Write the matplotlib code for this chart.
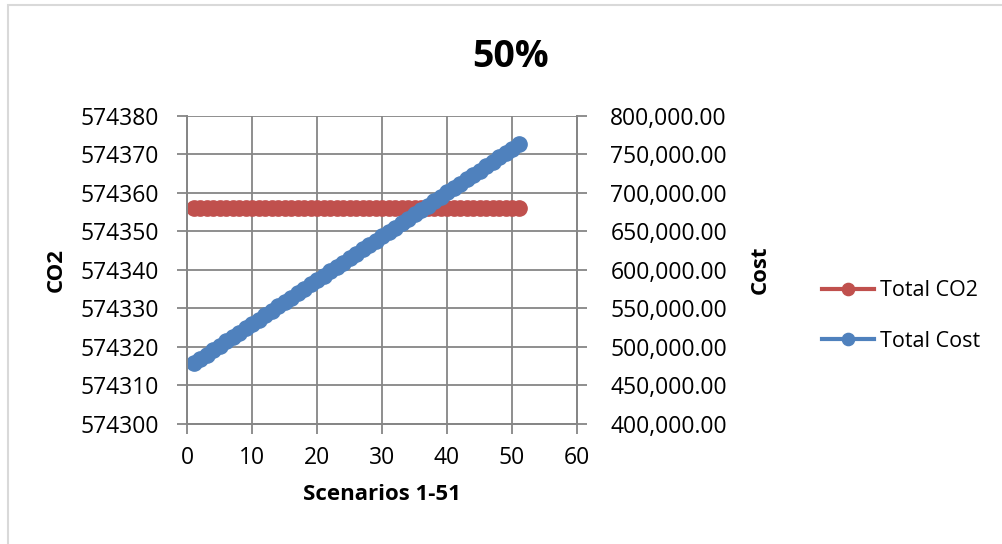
import matplotlib
matplotlib.use("Agg")
import matplotlib.pyplot as plt
from matplotlib.patches import Rectangle
from matplotlib.ticker import FuncFormatter

# scenario index 1..51
scenarios = list(range(1, 52))

# Total CO2 stays flat across all scenarios
total_co2 = [574356] * 51

# Total Cost
total_cost = [478400, 484090, 489780, 495470, 501160, 506850, 512540, 518230,
              523920, 529610, 535300, 540990, 546680, 552370, 558060, 563750,
              569440, 575130, 580820, 586510, 592200, 597890, 603580, 609270,
              614960, 620650, 626340, 632030, 637720, 643410, 649100, 654790,
              660480, 666170, 671860, 677550, 683240, 688930, 694620, 700310,
              706000, 711690, 717380, 723070, 728760, 734450, 740140, 745830,
              751520, 757210, 762900]

x_ticks = [0, 10, 20, 30, 40, 50, 60]
co2_ticks = [574300, 574310, 574320, 574330, 574340, 574350, 574360, 574370, 574380]
cost_ticks = [400000, 450000, 500000, 550000, 600000, 650000, 700000, 750000, 800000]

RED = "#C0504D"
BLUE = "#4F81BD"
GRID = "#868686"

plt.rcParams["font.family"] = ["Open Sans", "DejaVu Sans"]

fig = plt.figure(figsize=(10.02, 5.44), dpi=100)
fig.patches.append(Rectangle((8 / 1002, -0.1), 1.2, 1 - 5 / 544 + 0.1,
                             transform=fig.transFigure, fill=False,
                             edgecolor="#d9d9d9", lw=1.5))

ax = fig.add_axes([187 / 1002, 1 - 423.7 / 544, 390 / 1002, 308 / 544])
ax2 = ax.twinx()

ax.plot(scenarios, total_co2, color=RED, lw=3, marker="o", ms=11,
        mec=RED, label="Total CO2", clip_on=False)
ax2.plot(scenarios, total_cost, color=BLUE, lw=3, marker="o", ms=11,
         mec=BLUE, label="Total Cost", clip_on=False)

ax.set_xlim(0, 60)
ax.set_ylim(574300, 574380)
ax2.set_ylim(400000, 800000)
ax.set_xticks(x_ticks)
ax.set_yticks(co2_ticks)
ax2.set_yticks(cost_ticks)
ax.yaxis.set_major_formatter(FuncFormatter(lambda v, p: f"{v:.0f}"))
ax2.yaxis.set_major_formatter(FuncFormatter(lambda v, p: f"{v:,.2f}"))

ax.grid(True, color=GRID, lw=1.3)
ax.set_axisbelow(True)
for a in (ax, ax2):
    a.spines["top"].set_visible(False)
    for s in ("left", "right", "bottom"):
        a.spines[s].set_color(GRID)
        a.spines[s].set_linewidth(1.3)
    a.tick_params(colors=GRID, length=7, width=1.3, labelsize=16.5,
                  labelcolor="black")
ax.tick_params(axis="y", pad=13)
ax2.tick_params(axis="y", pad=17)
ax.tick_params(axis="x", pad=9)

ax.set_xlabel("Scenarios 1-51", fontsize=16, fontweight="bold", labelpad=10)
ax.set_ylabel("CO2", fontsize=16, fontweight="bold", labelpad=10)
ax2.set_ylabel("Cost", fontsize=16, fontweight="bold", labelpad=16)
fig.text(510 / 1002, 1 - 57 / 544, "50%", fontsize=27, fontweight="bold",
         ha="center", va="center")

h1, l1 = ax.get_legend_handles_labels()
h2, l2 = ax2.get_legend_handles_labels()
fig.legend(h1 + h2, l1 + l2, loc="center left",
           bbox_to_anchor=(803 / 1002, 1 - 316 / 544), frameon=False,
           fontsize=15.5, handlelength=2.4, handletextpad=0.3,
           labelspacing=1.35, markerscale=0.8)

fig.savefig("out.png", dpi=100)
